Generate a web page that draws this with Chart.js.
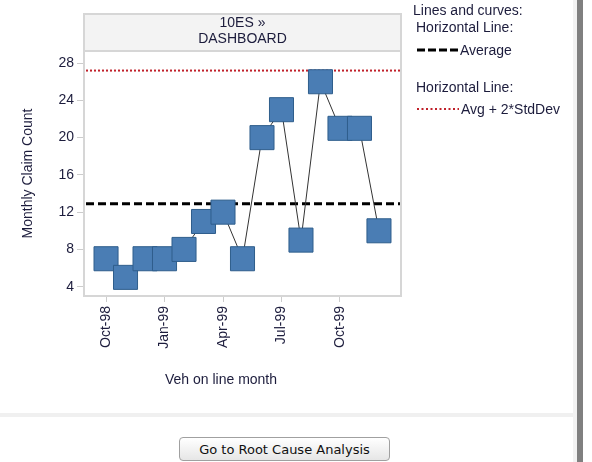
<!DOCTYPE html>
<html>
<head>
<meta charset="utf-8">
<script src="https://cdn.jsdelivr.net/npm/chart.js@4/dist/chart.umd.min.js"></script>
<style>
  body { margin: 0; background: #fff; width: 592px; height: 462px; overflow: hidden; position: relative; font-family: "Liberation Sans", Arial, sans-serif; }
  #myChart { position: absolute; left: 0; top: 0; }
  .sep { position: absolute; left: 0; top: 413px; width: 573px; height: 4px; background: #f0f0f0; }
  .edge1 { position: absolute; left: 573px; top: 0; width: 4px; height: 462px; background: #f2f2f2; }
  .edge2 { position: absolute; left: 577px; top: 0; width: 6px; height: 462px; background: #808080; }
  button { position: absolute; left: 179px; top: 437px; width: 211px; height: 24px; font: 13px "DejaVu Sans", sans-serif; color: #111;
    border: 1px solid #a0a0a0; border-radius: 4px; background: linear-gradient(#ffffff, #e6e6e6); padding: 0; }
</style>
</head>
<body>
<canvas id="myChart" width="592" height="410"></canvas>
<div class="sep"></div>
<div class="edge1"></div>
<div class="edge2"></div>
<button>Go to Root Cause Analysis</button>
<script>
const months = ['Oct-98', 'Nov-98', 'Dec-98', 'Jan-99', 'Feb-99', 'Mar-99', 'Apr-99', 'May-99',
  'Jun-99', 'Jul-99', 'Aug-99', 'Sep-99', 'Oct-99', 'Nov-99', 'Dec-99']
const claims = [7, 5, 7, 7, 8, 11, 12, 7, 20, 23, 9, 26, 21, 21, 10]
const tickLabels = ['Oct-98', 'Jan-99', 'Apr-99', 'Jul-99', 'Oct-99']
const yTicks = [4, 8, 12, 16, 20, 24, 28]
const average = 12.9
const upperLimit = 27.2

const textColor = '#1c1c3c'

// header box, frame, reference lines and legend
const extras = {
  id: 'extras',
  beforeDatasetsDraw(chart) {
    const { ctx, chartArea: a, scales } = chart
    ctx.save()
    ctx.strokeStyle = '#d6d6d6'
    ctx.lineWidth = 2
    ctx.strokeRect(a.left, a.top, a.right - a.left, a.bottom - a.top)
    const yAvg = scales.y.getPixelForValue(average)
    const yUp = scales.y.getPixelForValue(upperLimit)
    ctx.lineWidth = 3
    ctx.strokeStyle = '#000'
    ctx.setLineDash([8, 4])
    ctx.beginPath(); ctx.moveTo(a.left + 2, yAvg); ctx.lineTo(a.right - 1, yAvg); ctx.stroke()
    ctx.lineWidth = 2
    ctx.strokeStyle = '#c0202a'
    ctx.setLineDash([2, 2])
    ctx.beginPath(); ctx.moveTo(a.left + 2, yUp); ctx.lineTo(a.right - 1, yUp); ctx.stroke()
    ctx.restore()
  },
  afterDraw(chart) {
    const { ctx, chartArea: a } = chart
    ctx.save()
    ctx.fillStyle = '#f3f3f3'
    ctx.fillRect(a.left, 14, a.right - a.left, a.top - 14)
    ctx.strokeStyle = '#d6d6d6'
    ctx.lineWidth = 2
    ctx.strokeRect(a.left, 14, a.right - a.left, a.top - 14)
    ctx.fillStyle = textColor
    ctx.font = '14px "Liberation Sans", Arial, sans-serif'
    ctx.textAlign = 'center'
    ctx.textBaseline = 'middle'
    const cx = (a.left + a.right) / 2
    ctx.fillText('10ES \u00bb', cx, 23)
    ctx.fillText('DASHBOARD', cx, 39)
    ctx.fillText('Veh on line month', 221, 380)

    // legend
    ctx.textAlign = 'left'
    ctx.fillText('Lines and curves:', 413, 11)
    ctx.fillText('Horizontal Line:', 416, 28)
    ctx.fillText('Average', 460, 51)
    ctx.fillText('Horizontal Line:', 416, 88)
    ctx.fillText('Avg + 2*StdDev', 461, 110)
    ctx.lineWidth = 3
    ctx.strokeStyle = '#000'
    ctx.setLineDash([8, 3])
    ctx.beginPath(); ctx.moveTo(417, 50); ctx.lineTo(458, 50); ctx.stroke()
    ctx.lineWidth = 2
    ctx.strokeStyle = '#c0202a'
    ctx.setLineDash([2, 2.5])
    ctx.beginPath(); ctx.moveTo(417, 109); ctx.lineTo(459, 109); ctx.stroke()
    ctx.restore()
  }
}

const config = {
  type: 'line',
  data: {
    datasets: [{
      label: 'Monthly Claim Count',
      data: months.map((m, i) => ({ x: i, y: claims[i] })),
      borderColor: '#333',
      borderWidth: 1,
      pointStyle: 'rect',
      pointRadius: 17,
      pointBackgroundColor: '#4a7db4',
      pointBorderColor: '#2f5e8c',
      pointBorderWidth: 1
    }]
  },
  options: {
    responsive: false,
    animation: false,
    devicePixelRatio: 1,
    layout: { padding: { top: 51, right: 191, left: 0, bottom: 0 } },
    plugins: { legend: { display: false }, tooltip: { enabled: false } },
    scales: {
      x: {
        type: 'linear',
        min: -1.13,
        max: 15.13,
        afterFit: (s) => { s.height = 114 },
        afterBuildTicks: (s) => { s.ticks = tickLabels.map(l => ({ value: months.indexOf(l) })) },
        grid: { drawOnChartArea: false, color: '#cccccc', tickLength: 6 },
        border: { display: false },
        ticks: {
          autoSkip: false, minRotation: 90, maxRotation: 90, padding: 4,
          color: textColor, font: { size: 14, family: '"Liberation Sans", Arial, sans-serif' },
          callback: (v) => months[v]
        }
      },
      y: {
        min: 3.0,
        max: 29.3,
        afterFit: (s) => { s.width = 84 },
        afterBuildTicks: (s) => { s.ticks = yTicks.map(v => ({ value: v })) },
        grid: { drawOnChartArea: false, color: '#cccccc', tickLength: 7 },
        border: { display: false },
        ticks: { padding: 3, color: textColor, font: { size: 14, family: '"Liberation Sans", Arial, sans-serif' } },
        title: {
          display: true, text: 'Monthly Claim Count', color: textColor,
          font: { size: 14, family: '"Liberation Sans", Arial, sans-serif' },
          padding: { top: 20, bottom: 0 }
        }
      }
    }
  },
  plugins: [extras]
}

const ctx = document.getElementById('myChart')
new Chart(ctx, config)
</script>
</body>
</html>
